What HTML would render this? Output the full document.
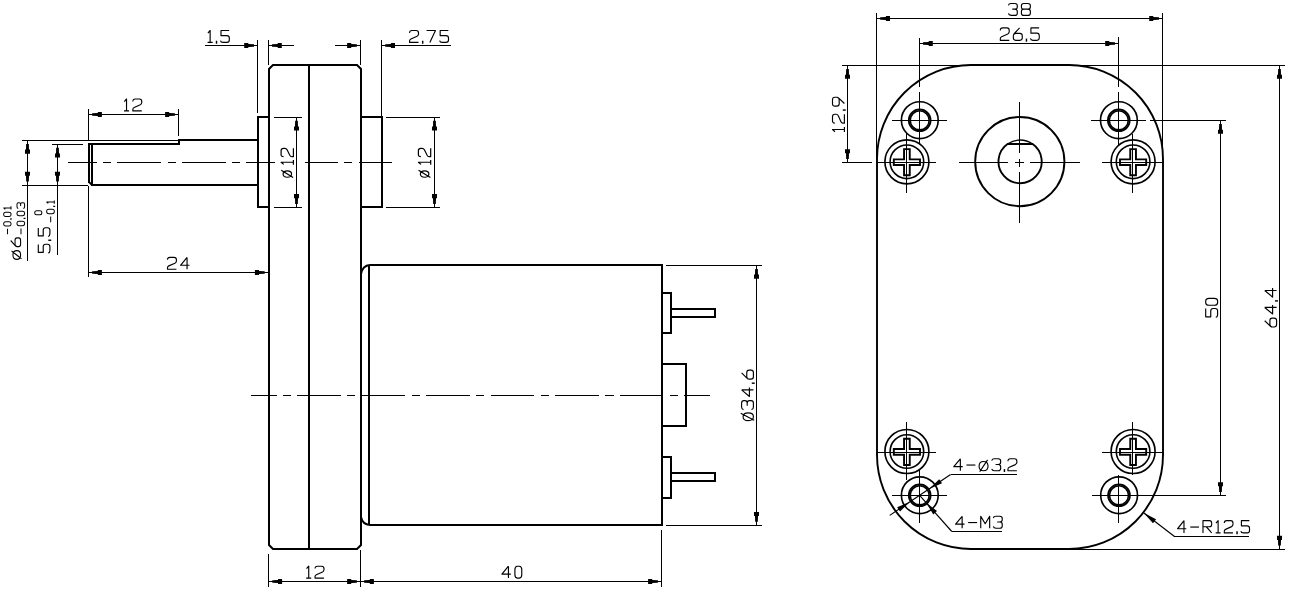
<!DOCTYPE html>
<html><head><meta charset="utf-8"><title>Gear motor drawing</title>
<style>
html,body{margin:0;padding:0;background:#fff;}
body{width:1289px;height:595px;overflow:hidden;font-family:"Liberation Sans",sans-serif;}
svg{display:block;}
</style></head><body>
<svg width="1289" height="595" viewBox="0 0 1289 595">
<rect width="1289" height="595" fill="#fff"/>
<path d="M269,69 L273,65 L357,65 L361,69 L361,545 L357,549 L273,549 L269,545 Z" stroke="#000" stroke-width="2" fill="none" stroke-linejoin="miter" stroke-linecap="square"/>
<line x1="309.00" y1="65.00" x2="309.00" y2="549.00" stroke="#000" stroke-width="2" shape-rendering="crispEdges"/>
<path d="M269,117 L258,117 L258,207 L269,207" stroke="#000" stroke-width="2" fill="none" stroke-linejoin="miter" stroke-linecap="square" shape-rendering="crispEdges"/>
<path d="M361,117 L382,117 L382,207 L361,207" stroke="#000" stroke-width="2" fill="none" stroke-linejoin="miter" stroke-linecap="square" shape-rendering="crispEdges"/>
<path d="M258,140 L179,140 L179,144 L89,144 L89,182" stroke="#000" stroke-width="2" fill="none" stroke-linejoin="miter" stroke-linecap="square" shape-rendering="crispEdges"/>
<path d="M258,185 L92,185" stroke="#000" stroke-width="2" fill="none" stroke-linejoin="miter" stroke-linecap="square" shape-rendering="crispEdges"/>
<path d="M89,182 L92,185" stroke="#000" stroke-width="1.8" fill="none" />
<line x1="92.00" y1="144.00" x2="92.00" y2="185.00" stroke="#000" stroke-width="2" shape-rendering="crispEdges"/>
<path d="M662,265 L370,265 Q362.5,265.5 361,274" stroke="#000" stroke-width="2" fill="none" />
<path d="M662,525 L370,525 Q362.5,524.5 361,517" stroke="#000" stroke-width="2" fill="none" />
<line x1="662.00" y1="264.00" x2="662.00" y2="526.00" stroke="#000" stroke-width="2" shape-rendering="crispEdges"/>
<line x1="369.00" y1="265.00" x2="369.00" y2="525.00" stroke="#000" stroke-width="2" shape-rendering="crispEdges"/>
<path d="M662,293 L671,293 L671,333 L662,333" stroke="#000" stroke-width="2" fill="none" stroke-linejoin="miter" stroke-linecap="square" shape-rendering="crispEdges"/>
<path d="M671,309 L715,309 L715,317 L671,317" stroke="#000" stroke-width="2" fill="none" stroke-linejoin="miter" stroke-linecap="square" shape-rendering="crispEdges"/>
<path d="M662,457 L671,457 L671,498 L662,498" stroke="#000" stroke-width="2" fill="none" stroke-linejoin="miter" stroke-linecap="square" shape-rendering="crispEdges"/>
<path d="M671,473 L715,473 L715,481 L671,481" stroke="#000" stroke-width="2" fill="none" stroke-linejoin="miter" stroke-linecap="square" shape-rendering="crispEdges"/>
<path d="M662,364 L686,364 L686,426 L662,426" stroke="#000" stroke-width="2" fill="none" stroke-linejoin="miter" stroke-linecap="square" shape-rendering="crispEdges"/>
<line x1="205.00" y1="45.50" x2="258.00" y2="45.50" stroke="#000" stroke-width="1" shape-rendering="crispEdges"/>
<path d="M0.3,0 L-3.6,-0.55 L-3.6,-1.35 L-9.3,-1.5 L-9.3,-2.45 L-13.4,-2.55 L-13.4,2.55 L-9.3,2.45 L-9.3,1.5 L-3.6,1.35 L-3.6,0.55 Z" fill="#000" stroke="none" transform="translate(257.60,45.50) rotate(0.00)"/>
<line x1="268.00" y1="45.50" x2="294.00" y2="45.50" stroke="#000" stroke-width="1" shape-rendering="crispEdges"/>
<path d="M0.3,0 L-3.6,-0.55 L-3.6,-1.35 L-9.3,-1.5 L-9.3,-2.45 L-13.4,-2.55 L-13.4,2.55 L-9.3,2.45 L-9.3,1.5 L-3.6,1.35 L-3.6,0.55 Z" fill="#000" stroke="none" transform="translate(268.40,45.50) rotate(180.00)"/>
<line x1="257.50" y1="40.00" x2="257.50" y2="113.00" stroke="#000" stroke-width="1" shape-rendering="crispEdges"/>
<line x1="268.50" y1="40.00" x2="268.50" y2="65.00" stroke="#000" stroke-width="1" shape-rendering="crispEdges"/>
<g transform="translate(207.60,42.40) rotate(0) scale(1.4875,1.4875)" fill="none" stroke="#000" stroke-width="0.773" stroke-linecap="butt" stroke-linejoin="round"><path d="M0.2,1.7 L1.7,0 L1.7,8 M0,8 L3.4,8" transform="translate(0.000,-8)"/><path d="M0.15,6.9 L0.15,8.9" transform="translate(5.850,-8)" stroke-width="0.966"/><path d="M5.9,0 L0.4,0 L0.4,3.4 L4.4,3.4 Q6,3.4 6,5 L6,6.4 Q6,8 4.4,8 L1.8,8 Q0.3,8 0,6.8" transform="translate(8.600,-8)"/></g>
<line x1="335.00" y1="45.50" x2="360.00" y2="45.50" stroke="#000" stroke-width="1" shape-rendering="crispEdges"/>
<path d="M0.3,0 L-3.6,-0.55 L-3.6,-1.35 L-9.3,-1.5 L-9.3,-2.45 L-13.4,-2.55 L-13.4,2.55 L-9.3,2.45 L-9.3,1.5 L-3.6,1.35 L-3.6,0.55 Z" fill="#000" stroke="none" transform="translate(360.50,45.50) rotate(0.00)"/>
<line x1="382.00" y1="45.50" x2="451.00" y2="45.50" stroke="#000" stroke-width="1" shape-rendering="crispEdges"/>
<path d="M0.3,0 L-3.6,-0.55 L-3.6,-1.35 L-9.3,-1.5 L-9.3,-2.45 L-13.4,-2.55 L-13.4,2.55 L-9.3,2.45 L-9.3,1.5 L-3.6,1.35 L-3.6,0.55 Z" fill="#000" stroke="none" transform="translate(381.60,45.50) rotate(180.00)"/>
<line x1="360.50" y1="40.00" x2="360.50" y2="65.00" stroke="#000" stroke-width="1" shape-rendering="crispEdges"/>
<line x1="381.50" y1="40.00" x2="381.50" y2="117.00" stroke="#000" stroke-width="1" shape-rendering="crispEdges"/>
<g transform="translate(409.60,42.40) rotate(0) scale(1.4875,1.4875)" fill="none" stroke="#000" stroke-width="0.773" stroke-linecap="butt" stroke-linejoin="round"><path d="M0,1.6 Q0,0 1.6,0 L4.4,0 Q6,0 6,1.6 L6,2.4 Q6,3.4 5,3.9 L0.9,5.7 Q0,6.1 0,7 L0,8 L6,8" transform="translate(0.000,-8)"/><path d="M0.15,6.9 L0.15,8.9" transform="translate(8.650,-8)" stroke-width="0.966"/><path d="M0,0 L6,0 L2.2,8" transform="translate(11.400,-8)"/><path d="M5.9,0 L0.4,0 L0.4,3.4 L4.4,3.4 Q6,3.4 6,5 L6,6.4 Q6,8 4.4,8 L1.8,8 Q0.3,8 0,6.8" transform="translate(20.150,-8)"/></g>
<line x1="88.00" y1="114.50" x2="178.00" y2="114.50" stroke="#000" stroke-width="1" shape-rendering="crispEdges"/>
<path d="M0.3,0 L-3.6,-0.55 L-3.6,-1.35 L-9.3,-1.5 L-9.3,-2.45 L-13.4,-2.55 L-13.4,2.55 L-9.3,2.45 L-9.3,1.5 L-3.6,1.35 L-3.6,0.55 Z" fill="#000" stroke="none" transform="translate(88.50,114.50) rotate(180.00)"/>
<path d="M0.3,0 L-3.6,-0.55 L-3.6,-1.35 L-9.3,-1.5 L-9.3,-2.45 L-13.4,-2.55 L-13.4,2.55 L-9.3,2.45 L-9.3,1.5 L-3.6,1.35 L-3.6,0.55 Z" fill="#000" stroke="none" transform="translate(178.50,114.50) rotate(0.00)"/>
<line x1="88.50" y1="109.00" x2="88.50" y2="140.00" stroke="#000" stroke-width="1" shape-rendering="crispEdges"/>
<line x1="178.50" y1="109.00" x2="178.50" y2="136.00" stroke="#000" stroke-width="1" shape-rendering="crispEdges"/>
<line x1="88.50" y1="186.00" x2="88.50" y2="277.00" stroke="#000" stroke-width="1" shape-rendering="crispEdges"/>
<g transform="translate(124.00,110.90) rotate(0) scale(1.4875,1.4875)" fill="none" stroke="#000" stroke-width="0.773" stroke-linecap="butt" stroke-linejoin="round"><path d="M0.2,1.7 L1.7,0 L1.7,8 M0,8 L3.4,8" transform="translate(0.000,-8)"/><path d="M0,1.6 Q0,0 1.6,0 L4.4,0 Q6,0 6,1.6 L6,2.4 Q6,3.4 5,3.9 L0.9,5.7 Q0,6.1 0,7 L0,8 L6,8" transform="translate(5.950,-8)"/></g>
<line x1="88.00" y1="272.50" x2="269.00" y2="272.50" stroke="#000" stroke-width="1" shape-rendering="crispEdges"/>
<path d="M0.3,0 L-3.6,-0.55 L-3.6,-1.35 L-9.3,-1.5 L-9.3,-2.45 L-13.4,-2.55 L-13.4,2.55 L-9.3,2.45 L-9.3,1.5 L-3.6,1.35 L-3.6,0.55 Z" fill="#000" stroke="none" transform="translate(88.50,272.50) rotate(180.00)"/>
<path d="M0.3,0 L-3.6,-0.55 L-3.6,-1.35 L-9.3,-1.5 L-9.3,-2.45 L-13.4,-2.55 L-13.4,2.55 L-9.3,2.45 L-9.3,1.5 L-3.6,1.35 L-3.6,0.55 Z" fill="#000" stroke="none" transform="translate(268.30,272.50) rotate(0.00)"/>
<g transform="translate(167.50,269.30) rotate(0) scale(1.4875,1.4875)" fill="none" stroke="#000" stroke-width="0.773" stroke-linecap="butt" stroke-linejoin="round"><path d="M0,1.6 Q0,0 1.6,0 L4.4,0 Q6,0 6,1.6 L6,2.4 Q6,3.4 5,3.9 L0.9,5.7 Q0,6.1 0,7 L0,8 L6,8" transform="translate(0.000,-8)"/><path d="M4.4,0 L0,5.3 L6,5.3 M4.4,0 L4.4,8" transform="translate(8.750,-8)"/></g>
<line x1="22.00" y1="140.50" x2="178.00" y2="140.50" stroke="#000" stroke-width="1" shape-rendering="crispEdges"/>
<line x1="22.00" y1="185.50" x2="88.00" y2="185.50" stroke="#000" stroke-width="1" shape-rendering="crispEdges"/>
<line x1="27.50" y1="140.00" x2="27.50" y2="261.00" stroke="#000" stroke-width="1" shape-rendering="crispEdges"/>
<path d="M0.3,0 L-3.6,-0.55 L-3.6,-1.35 L-9.3,-1.5 L-9.3,-2.45 L-13.4,-2.55 L-13.4,2.55 L-9.3,2.45 L-9.3,1.5 L-3.6,1.35 L-3.6,0.55 Z" fill="#000" stroke="none" transform="translate(27.50,140.30) rotate(-90.00)"/>
<path d="M0.3,0 L-3.6,-0.55 L-3.6,-1.35 L-9.3,-1.5 L-9.3,-2.45 L-13.4,-2.55 L-13.4,2.55 L-9.3,2.45 L-9.3,1.5 L-3.6,1.35 L-3.6,0.55 Z" fill="#000" stroke="none" transform="translate(27.50,185.05) rotate(90.00)"/>
<line x1="52.00" y1="144.50" x2="83.00" y2="144.50" stroke="#000" stroke-width="1" shape-rendering="crispEdges"/>
<line x1="57.50" y1="144.00" x2="57.50" y2="255.00" stroke="#000" stroke-width="1" shape-rendering="crispEdges"/>
<path d="M0.3,0 L-3.6,-0.55 L-3.6,-1.35 L-9.3,-1.5 L-9.3,-2.45 L-13.4,-2.55 L-13.4,2.55 L-9.3,2.45 L-9.3,1.5 L-3.6,1.35 L-3.6,0.55 Z" fill="#000" stroke="none" transform="translate(57.50,144.20) rotate(-90.00)"/>
<path d="M0.3,0 L-3.6,-0.55 L-3.6,-1.35 L-9.3,-1.5 L-9.3,-2.45 L-13.4,-2.55 L-13.4,2.55 L-9.3,2.45 L-9.3,1.5 L-3.6,1.35 L-3.6,0.55 Z" fill="#000" stroke="none" transform="translate(57.50,185.05) rotate(90.00)"/>
<g transform="translate(20.60,259.30) rotate(-90) scale(1.4500,1.2375)" fill="none" stroke="#000" stroke-width="0.856" stroke-linecap="butt" stroke-linejoin="round"><path d="M3,1.8 Q6,1.8 6,5 Q6,8 3,8 Q0,8 0,5 Q0,1.8 3,1.8 Z M0.4,8.7 L5.7,0.7" transform="translate(0.000,-8)"/><path d="M4.2,0 L0.7,3.6 Q0,4.4 0,5.2 L0,6.4 Q0,8 1.6,8 L4.4,8 Q6,8 6,6.4 L6,5.1 Q6,3.5 4.4,3.5 L1.6,3.5 Q0.3,3.5 0,5" transform="translate(8.750,-8)"/></g>
<g transform="translate(11.00,234.20) rotate(-90) scale(0.9125,0.9125)" fill="none" stroke="#000" stroke-width="1.096" stroke-linecap="butt" stroke-linejoin="round"><path d="M0,4.2 L6,4.2" transform="translate(0.000,-8)"/><path d="M1.6,0 L3.0,0 Q4.6,0.2 4.6,2.2 L4.6,5.8 Q4.6,7.8 3.0,8 L1.6,8 Q0,7.8 0,5.8 L0,2.2 Q0,0.2 1.6,0 Z" transform="translate(9.000,-8)"/><path d="M0.15,6.9 L0.15,8.9" transform="translate(16.500,-8)" stroke-width="1.370"/><path d="M1.6,0 L3.0,0 Q4.6,0.2 4.6,2.2 L4.6,5.8 Q4.6,7.8 3.0,8 L1.6,8 Q0,7.8 0,5.8 L0,2.2 Q0,0.2 1.6,0 Z" transform="translate(19.500,-8)"/><path d="M0.2,1.7 L1.7,0 L1.7,8 M0,8 L3.4,8" transform="translate(27.100,-8)"/></g>
<g transform="translate(24.60,234.20) rotate(-90) scale(0.9500,0.9500)" fill="none" stroke="#000" stroke-width="1.053" stroke-linecap="butt" stroke-linejoin="round"><path d="M0,4.2 L6,4.2" transform="translate(0.000,-8)"/><path d="M1.6,0 L3.0,0 Q4.6,0.2 4.6,2.2 L4.6,5.8 Q4.6,7.8 3.0,8 L1.6,8 Q0,7.8 0,5.8 L0,2.2 Q0,0.2 1.6,0 Z" transform="translate(9.000,-8)"/><path d="M0.15,6.9 L0.15,8.9" transform="translate(16.500,-8)" stroke-width="1.316"/><path d="M1.6,0 L3.0,0 Q4.6,0.2 4.6,2.2 L4.6,5.8 Q4.6,7.8 3.0,8 L1.6,8 Q0,7.8 0,5.8 L0,2.2 Q0,0.2 1.6,0 Z" transform="translate(19.500,-8)"/><path d="M0,1.3 Q0.3,0 1.8,0 L4.4,0 Q6,0 6,1.5 L6,2.3 Q6,3.8 4.4,3.8 L2.6,3.8 M4.4,3.8 Q6,3.8 6,5.3 L6,6.5 Q6,8 4.4,8 L1.8,8 Q0.3,8 0,6.7" transform="translate(27.100,-8)"/></g>
<g transform="translate(49.90,253.00) rotate(-90) scale(1.4500,1.4500)" fill="none" stroke="#000" stroke-width="0.793" stroke-linecap="butt" stroke-linejoin="round"><path d="M5.9,0 L0.4,0 L0.4,3.4 L4.4,3.4 Q6,3.4 6,5 L6,6.4 Q6,8 4.4,8 L1.8,8 Q0.3,8 0,6.8" transform="translate(0.000,-8)"/><path d="M0.15,6.9 L0.15,8.9" transform="translate(8.650,-8)" stroke-width="0.991"/><path d="M5.9,0 L0.4,0 L0.4,3.4 L4.4,3.4 Q6,3.4 6,5 L6,6.4 Q6,8 4.4,8 L1.8,8 Q0.3,8 0,6.8" transform="translate(11.400,-8)"/></g>
<g transform="translate(41.80,214.80) rotate(-90) scale(0.8750,0.8750)" fill="none" stroke="#000" stroke-width="1.143" stroke-linecap="butt" stroke-linejoin="round"><path d="M1.6,0 L3.0,0 Q4.6,0.2 4.6,2.2 L4.6,5.8 Q4.6,7.8 3.0,8 L1.6,8 Q0,7.8 0,5.8 L0,2.2 Q0,0.2 1.6,0 Z" transform="translate(0.000,-8)"/></g>
<g transform="translate(54.30,222.20) rotate(-90) scale(0.9500,0.9500)" fill="none" stroke="#000" stroke-width="1.053" stroke-linecap="butt" stroke-linejoin="round"><path d="M0,4.2 L6,4.2" transform="translate(0.000,-8)"/><path d="M1.6,0 L3.0,0 Q4.6,0.2 4.6,2.2 L4.6,5.8 Q4.6,7.8 3.0,8 L1.6,8 Q0,7.8 0,5.8 L0,2.2 Q0,0.2 1.6,0 Z" transform="translate(9.000,-8)"/><path d="M0.15,6.9 L0.15,8.9" transform="translate(16.500,-8)" stroke-width="1.316"/><path d="M0.2,1.7 L1.7,0 L1.7,8 M0,8 L3.4,8" transform="translate(19.500,-8)"/></g>
<line x1="274.00" y1="117.50" x2="302.00" y2="117.50" stroke="#000" stroke-width="1" shape-rendering="crispEdges"/>
<line x1="274.00" y1="207.50" x2="302.00" y2="207.50" stroke="#000" stroke-width="1" shape-rendering="crispEdges"/>
<line x1="296.50" y1="117.00" x2="296.50" y2="208.00" stroke="#000" stroke-width="1" shape-rendering="crispEdges"/>
<path d="M0.3,0 L-3.6,-0.55 L-3.6,-1.35 L-9.3,-1.5 L-9.3,-2.45 L-13.4,-2.55 L-13.4,2.55 L-9.3,2.45 L-9.3,1.5 L-3.6,1.35 L-3.6,0.55 Z" fill="#000" stroke="none" transform="translate(296.50,117.20) rotate(-90.00)"/>
<path d="M0.3,0 L-3.6,-0.55 L-3.6,-1.35 L-9.3,-1.5 L-9.3,-2.45 L-13.4,-2.55 L-13.4,2.55 L-9.3,2.45 L-9.3,1.5 L-3.6,1.35 L-3.6,0.55 Z" fill="#000" stroke="none" transform="translate(296.50,207.50) rotate(90.00)"/>
<g transform="translate(293.40,177.60) rotate(-90) scale(1.3800,1.5375)" fill="none" stroke="#000" stroke-width="0.788" stroke-linecap="butt" stroke-linejoin="round"><path d="M2.6,1.3 Q4.9,1.3 4.9,4.05 Q4.9,6.8 2.6,6.8 Q0.3,6.8 0.3,4.05 Q0.3,1.3 2.6,1.3 Z M0.1,7.8 L5.3,0.1" transform="translate(0.000,-8)"/><path d="M0.2,1.7 L1.7,0 L1.7,8 M0,8 L3.4,8" transform="translate(9.400,-8)"/><path d="M0,1.6 Q0,0 1.6,0 L4.4,0 Q6,0 6,1.6 L6,2.4 Q6,3.4 5,3.9 L0.9,5.7 Q0,6.1 0,7 L0,8 L6,8" transform="translate(15.200,-8)"/></g>
<line x1="386.00" y1="117.50" x2="440.00" y2="117.50" stroke="#000" stroke-width="1" shape-rendering="crispEdges"/>
<line x1="386.00" y1="207.50" x2="440.00" y2="207.50" stroke="#000" stroke-width="1" shape-rendering="crispEdges"/>
<line x1="434.50" y1="117.00" x2="434.50" y2="208.00" stroke="#000" stroke-width="1" shape-rendering="crispEdges"/>
<path d="M0.3,0 L-3.6,-0.55 L-3.6,-1.35 L-9.3,-1.5 L-9.3,-2.45 L-13.4,-2.55 L-13.4,2.55 L-9.3,2.45 L-9.3,1.5 L-3.6,1.35 L-3.6,0.55 Z" fill="#000" stroke="none" transform="translate(434.50,117.20) rotate(-90.00)"/>
<path d="M0.3,0 L-3.6,-0.55 L-3.6,-1.35 L-9.3,-1.5 L-9.3,-2.45 L-13.4,-2.55 L-13.4,2.55 L-9.3,2.45 L-9.3,1.5 L-3.6,1.35 L-3.6,0.55 Z" fill="#000" stroke="none" transform="translate(434.50,207.50) rotate(90.00)"/>
<g transform="translate(430.70,177.60) rotate(-90) scale(1.3800,1.5375)" fill="none" stroke="#000" stroke-width="0.788" stroke-linecap="butt" stroke-linejoin="round"><path d="M2.6,1.3 Q4.9,1.3 4.9,4.05 Q4.9,6.8 2.6,6.8 Q0.3,6.8 0.3,4.05 Q0.3,1.3 2.6,1.3 Z M0.1,7.8 L5.3,0.1" transform="translate(0.000,-8)"/><path d="M0.2,1.7 L1.7,0 L1.7,8 M0,8 L3.4,8" transform="translate(9.400,-8)"/><path d="M0,1.6 Q0,0 1.6,0 L4.4,0 Q6,0 6,1.6 L6,2.4 Q6,3.4 5,3.9 L0.9,5.7 Q0,6.1 0,7 L0,8 L6,8" transform="translate(15.200,-8)"/></g>
<line x1="666.00" y1="265.50" x2="762.00" y2="265.50" stroke="#000" stroke-width="1" shape-rendering="crispEdges"/>
<line x1="666.00" y1="525.50" x2="762.00" y2="525.50" stroke="#000" stroke-width="1" shape-rendering="crispEdges"/>
<line x1="756.50" y1="265.00" x2="756.50" y2="525.00" stroke="#000" stroke-width="1" shape-rendering="crispEdges"/>
<path d="M0.3,0 L-3.6,-0.55 L-3.6,-1.35 L-9.3,-1.5 L-9.3,-2.45 L-13.4,-2.55 L-13.4,2.55 L-9.3,2.45 L-9.3,1.5 L-3.6,1.35 L-3.6,0.55 Z" fill="#000" stroke="none" transform="translate(756.50,265.30) rotate(-90.00)"/>
<path d="M0.3,0 L-3.6,-0.55 L-3.6,-1.35 L-9.3,-1.5 L-9.3,-2.45 L-13.4,-2.55 L-13.4,2.55 L-9.3,2.45 L-9.3,1.5 L-3.6,1.35 L-3.6,0.55 Z" fill="#000" stroke="none" transform="translate(756.50,525.40) rotate(90.00)"/>
<g transform="translate(753.40,420.60) rotate(-90) scale(1.5000,1.4750)" fill="none" stroke="#000" stroke-width="0.773" stroke-linecap="butt" stroke-linejoin="round"><path d="M2.6,1.0 Q5.2,1.0 5.2,4.5 Q5.2,8 2.6,8 Q0,8 0,4.5 Q0,1.0 2.6,1.0 Z M0.3,8.5 L4.9,-0.6" transform="translate(0.000,-8)"/><path d="M0,1.3 Q0.3,0 1.8,0 L4.4,0 Q6,0 6,1.5 L6,2.3 Q6,3.8 4.4,3.8 L2.6,3.8 M4.4,3.8 Q6,3.8 6,5.3 L6,6.5 Q6,8 4.4,8 L1.8,8 Q0.3,8 0,6.7" transform="translate(7.300,-8)"/><path d="M4.4,0 L0,5.3 L6,5.3 M4.4,0 L4.4,8" transform="translate(16.100,-8)"/><path d="M0.15,6.9 L0.15,8.9" transform="translate(24.800,-8)" stroke-width="0.958"/><path d="M4.2,0 L0.7,3.6 Q0,4.4 0,5.2 L0,6.4 Q0,8 1.6,8 L4.4,8 Q6,8 6,6.4 L6,5.1 Q6,3.5 4.4,3.5 L1.6,3.5 Q0.3,3.5 0,5" transform="translate(27.600,-8)"/></g>
<line x1="268.50" y1="554.00" x2="268.50" y2="587.00" stroke="#000" stroke-width="1" shape-rendering="crispEdges"/>
<line x1="360.50" y1="550.00" x2="360.50" y2="587.00" stroke="#000" stroke-width="1" shape-rendering="crispEdges"/>
<line x1="661.50" y1="530.00" x2="661.50" y2="587.00" stroke="#000" stroke-width="1" shape-rendering="crispEdges"/>
<line x1="269.00" y1="581.50" x2="662.00" y2="581.50" stroke="#000" stroke-width="1" shape-rendering="crispEdges"/>
<path d="M0.3,0 L-3.6,-0.55 L-3.6,-1.35 L-9.3,-1.5 L-9.3,-2.45 L-13.4,-2.55 L-13.4,2.55 L-9.3,2.45 L-9.3,1.5 L-3.6,1.35 L-3.6,0.55 Z" fill="#000" stroke="none" transform="translate(268.70,581.50) rotate(180.00)"/>
<path d="M0.3,0 L-3.6,-0.55 L-3.6,-1.35 L-9.3,-1.5 L-9.3,-2.45 L-13.4,-2.55 L-13.4,2.55 L-9.3,2.45 L-9.3,1.5 L-3.6,1.35 L-3.6,0.55 Z" fill="#000" stroke="none" transform="translate(360.50,581.50) rotate(0.00)"/>
<path d="M0.3,0 L-3.6,-0.55 L-3.6,-1.35 L-9.3,-1.5 L-9.3,-2.45 L-13.4,-2.55 L-13.4,2.55 L-9.3,2.45 L-9.3,1.5 L-3.6,1.35 L-3.6,0.55 Z" fill="#000" stroke="none" transform="translate(360.50,581.50) rotate(180.00)"/>
<path d="M0.3,0 L-3.6,-0.55 L-3.6,-1.35 L-9.3,-1.5 L-9.3,-2.45 L-13.4,-2.55 L-13.4,2.55 L-9.3,2.45 L-9.3,1.5 L-3.6,1.35 L-3.6,0.55 Z" fill="#000" stroke="none" transform="translate(661.50,581.50) rotate(0.00)"/>
<g transform="translate(306.20,578.10) rotate(0) scale(1.4875,1.4875)" fill="none" stroke="#000" stroke-width="0.773" stroke-linecap="butt" stroke-linejoin="round"><path d="M0.2,1.7 L1.7,0 L1.7,8 M0,8 L3.4,8" transform="translate(0.000,-8)"/><path d="M0,1.6 Q0,0 1.6,0 L4.4,0 Q6,0 6,1.6 L6,2.4 Q6,3.4 5,3.9 L0.9,5.7 Q0,6.1 0,7 L0,8 L6,8" transform="translate(5.950,-8)"/></g>
<g transform="translate(501.90,578.10) rotate(0) scale(1.4875,1.4875)" fill="none" stroke="#000" stroke-width="0.773" stroke-linecap="butt" stroke-linejoin="round"><path d="M4.4,0 L0,5.3 L6,5.3 M4.4,0 L4.4,8" transform="translate(0.000,-8)"/><path d="M1.6,0 L3.0,0 Q4.6,0.2 4.6,2.2 L4.6,5.8 Q4.6,7.8 3.0,8 L1.6,8 Q0,7.8 0,5.8 L0,2.2 Q0,0.2 1.6,0 Z" transform="translate(8.750,-8)"/></g>
<line x1="68.00" y1="162.50" x2="97.00" y2="162.50" stroke="#000" stroke-width="1" shape-rendering="crispEdges"/>
<line x1="103.00" y1="162.50" x2="111.00" y2="162.50" stroke="#000" stroke-width="1" shape-rendering="crispEdges"/>
<line x1="117.00" y1="162.50" x2="161.00" y2="162.50" stroke="#000" stroke-width="1" shape-rendering="crispEdges"/>
<line x1="168.00" y1="162.50" x2="176.00" y2="162.50" stroke="#000" stroke-width="1" shape-rendering="crispEdges"/>
<line x1="182.00" y1="162.50" x2="226.00" y2="162.50" stroke="#000" stroke-width="1" shape-rendering="crispEdges"/>
<line x1="232.00" y1="162.50" x2="240.00" y2="162.50" stroke="#000" stroke-width="1" shape-rendering="crispEdges"/>
<line x1="246.00" y1="162.50" x2="275.00" y2="162.50" stroke="#000" stroke-width="1" shape-rendering="crispEdges"/>
<line x1="305.00" y1="162.50" x2="338.00" y2="162.50" stroke="#000" stroke-width="1" shape-rendering="crispEdges"/>
<line x1="344.00" y1="162.50" x2="352.00" y2="162.50" stroke="#000" stroke-width="1" shape-rendering="crispEdges"/>
<line x1="359.00" y1="162.50" x2="392.00" y2="162.50" stroke="#000" stroke-width="1" shape-rendering="crispEdges"/>
<line x1="251.00" y1="395.50" x2="277.00" y2="395.50" stroke="#000" stroke-width="1" shape-rendering="crispEdges"/>
<line x1="283.00" y1="395.50" x2="291.00" y2="395.50" stroke="#000" stroke-width="1" shape-rendering="crispEdges"/>
<line x1="297.00" y1="395.50" x2="341.00" y2="395.50" stroke="#000" stroke-width="1" shape-rendering="crispEdges"/>
<line x1="347.00" y1="395.50" x2="355.00" y2="395.50" stroke="#000" stroke-width="1" shape-rendering="crispEdges"/>
<line x1="362.00" y1="395.50" x2="405.00" y2="395.50" stroke="#000" stroke-width="1" shape-rendering="crispEdges"/>
<line x1="412.00" y1="395.50" x2="420.00" y2="395.50" stroke="#000" stroke-width="1" shape-rendering="crispEdges"/>
<line x1="426.00" y1="395.50" x2="470.00" y2="395.50" stroke="#000" stroke-width="1" shape-rendering="crispEdges"/>
<line x1="476.00" y1="395.50" x2="484.00" y2="395.50" stroke="#000" stroke-width="1" shape-rendering="crispEdges"/>
<line x1="491.00" y1="395.50" x2="534.00" y2="395.50" stroke="#000" stroke-width="1" shape-rendering="crispEdges"/>
<line x1="541.00" y1="395.50" x2="549.00" y2="395.50" stroke="#000" stroke-width="1" shape-rendering="crispEdges"/>
<line x1="555.00" y1="395.50" x2="599.00" y2="395.50" stroke="#000" stroke-width="1" shape-rendering="crispEdges"/>
<line x1="605.00" y1="395.50" x2="614.00" y2="395.50" stroke="#000" stroke-width="1" shape-rendering="crispEdges"/>
<line x1="620.00" y1="395.50" x2="663.00" y2="395.50" stroke="#000" stroke-width="1" shape-rendering="crispEdges"/>
<line x1="670.00" y1="395.50" x2="678.00" y2="395.50" stroke="#000" stroke-width="1" shape-rendering="crispEdges"/>
<line x1="684.00" y1="395.50" x2="710.00" y2="395.50" stroke="#000" stroke-width="1" shape-rendering="crispEdges"/>
<path d="M971.0,65 L1069.0,65 A94.0,94.0 0 0 1 1163,159.0 L1163,455.0 A94.0,94.0 0 0 1 1069.0,549 L971.0,549 A94.0,94.0 0 0 1 877,455.0 L877,159.0 A94.0,94.0 0 0 1 971.0,65 Z" stroke="#000" stroke-width="1.9" fill="none" />
<circle cx="1019.80" cy="161.60" r="44.60" stroke="#000" stroke-width="1.9" fill="none"/>
<path d="M1007.86,143.8 A21.6,21.6 0 1 0 1032.34,143.8" stroke="#000" stroke-width="1.9" fill="none" />
<path d="M1007.86,143.8 A21.6,21.6 0 0 1 1032.34,143.8" stroke="#000" stroke-width="1.3" fill="none" />
<line x1="1007.00" y1="144.00" x2="1033.00" y2="144.00" stroke="#000" stroke-width="2" shape-rendering="crispEdges"/>
<line x1="959.00" y1="162.50" x2="1008.00" y2="162.50" stroke="#000" stroke-width="1" shape-rendering="crispEdges"/>
<line x1="1015.00" y1="162.50" x2="1024.00" y2="162.50" stroke="#000" stroke-width="1" shape-rendering="crispEdges"/>
<line x1="1030.00" y1="162.50" x2="1080.00" y2="162.50" stroke="#000" stroke-width="1" shape-rendering="crispEdges"/>
<line x1="1019.50" y1="102.00" x2="1019.50" y2="153.00" stroke="#000" stroke-width="1" shape-rendering="crispEdges"/>
<line x1="1019.50" y1="159.00" x2="1019.50" y2="167.00" stroke="#000" stroke-width="1" shape-rendering="crispEdges"/>
<line x1="1019.50" y1="172.00" x2="1019.50" y2="223.00" stroke="#000" stroke-width="1" shape-rendering="crispEdges"/>
<circle cx="919.80" cy="120.20" r="18.40" stroke="#000" stroke-width="1.65" fill="none"/>
<circle cx="919.70" cy="120.30" r="10.90" stroke="#000" stroke-width="1.8" fill="none"/>
<circle cx="919.70" cy="120.30" r="9.50" stroke="#000" stroke-width="1.6" fill="none"/>
<line x1="892.00" y1="120.50" x2="947.00" y2="120.50" stroke="#000" stroke-width="1" shape-rendering="crispEdges"/>
<line x1="919.50" y1="92.00" x2="919.50" y2="144.00" stroke="#000" stroke-width="1" shape-rendering="crispEdges"/>
<circle cx="1118.90" cy="120.20" r="18.40" stroke="#000" stroke-width="1.65" fill="none"/>
<circle cx="1118.80" cy="120.30" r="10.90" stroke="#000" stroke-width="1.8" fill="none"/>
<circle cx="1118.80" cy="120.30" r="9.50" stroke="#000" stroke-width="1.6" fill="none"/>
<line x1="1091.00" y1="120.50" x2="1146.00" y2="120.50" stroke="#000" stroke-width="1" shape-rendering="crispEdges"/>
<line x1="1118.50" y1="92.00" x2="1118.50" y2="146.00" stroke="#000" stroke-width="1" shape-rendering="crispEdges"/>
<circle cx="919.80" cy="495.20" r="18.40" stroke="#000" stroke-width="1.65" fill="none"/>
<circle cx="919.70" cy="495.30" r="10.90" stroke="#000" stroke-width="1.8" fill="none"/>
<circle cx="919.70" cy="495.30" r="9.50" stroke="#000" stroke-width="1.6" fill="none"/>
<line x1="892.00" y1="495.50" x2="947.00" y2="495.50" stroke="#000" stroke-width="1" shape-rendering="crispEdges"/>
<line x1="919.50" y1="470.00" x2="919.50" y2="523.00" stroke="#000" stroke-width="1" shape-rendering="crispEdges"/>
<circle cx="1119.10" cy="495.20" r="18.40" stroke="#000" stroke-width="1.65" fill="none"/>
<circle cx="1119.00" cy="495.30" r="10.90" stroke="#000" stroke-width="1.8" fill="none"/>
<circle cx="1119.00" cy="495.30" r="9.50" stroke="#000" stroke-width="1.6" fill="none"/>
<line x1="1092.00" y1="495.50" x2="1146.00" y2="495.50" stroke="#000" stroke-width="1" shape-rendering="crispEdges"/>
<line x1="1118.50" y1="475.00" x2="1118.50" y2="523.00" stroke="#000" stroke-width="1" shape-rendering="crispEdges"/>
<circle cx="906.90" cy="161.80" r="22.00" stroke="#000" stroke-width="1.65" fill="none"/>
<circle cx="906.90" cy="161.80" r="16.80" stroke="#000" stroke-width="1.6" fill="none"/>
<path d="M904.05,149.1 L909.75,149.1 L909.75,159.35 L920.0,159.35 L920.0,165.04999999999998 L909.75,165.04999999999998 L909.75,175.29999999999998 L904.05,175.29999999999998 L904.05,165.04999999999998 L893.8,165.04999999999998 L893.8,159.35 L904.05,159.35 Z" stroke="#000" stroke-width="1.9" fill="none" />
<line x1="877.00" y1="162.50" x2="936.00" y2="162.50" stroke="#000" stroke-width="1" shape-rendering="crispEdges"/>
<line x1="906.50" y1="133.00" x2="906.50" y2="193.00" stroke="#000" stroke-width="1" shape-rendering="crispEdges"/>
<circle cx="1133.10" cy="161.80" r="22.00" stroke="#000" stroke-width="1.65" fill="none"/>
<circle cx="1133.10" cy="161.80" r="16.80" stroke="#000" stroke-width="1.6" fill="none"/>
<path d="M1130.2500000000002,149.1 L1135.95,149.1 L1135.95,159.35 L1146.2,159.35 L1146.2,165.04999999999998 L1135.95,165.04999999999998 L1135.95,175.29999999999998 L1130.2500000000002,175.29999999999998 L1130.2500000000002,165.04999999999998 L1120.0000000000002,165.04999999999998 L1120.0000000000002,159.35 L1130.2500000000002,159.35 Z" stroke="#000" stroke-width="1.9" fill="none" />
<line x1="1102.00" y1="162.50" x2="1163.00" y2="162.50" stroke="#000" stroke-width="1" shape-rendering="crispEdges"/>
<line x1="1132.50" y1="134.00" x2="1132.50" y2="193.00" stroke="#000" stroke-width="1" shape-rendering="crispEdges"/>
<circle cx="906.90" cy="451.50" r="22.00" stroke="#000" stroke-width="1.65" fill="none"/>
<circle cx="906.90" cy="451.50" r="16.80" stroke="#000" stroke-width="1.6" fill="none"/>
<path d="M904.05,438.79999999999995 L909.75,438.79999999999995 L909.75,449.04999999999995 L920.0,449.04999999999995 L920.0,454.75 L909.75,454.75 L909.75,465.0 L904.05,465.0 L904.05,454.75 L893.8,454.75 L893.8,449.04999999999995 L904.05,449.04999999999995 Z" stroke="#000" stroke-width="1.9" fill="none" />
<line x1="877.00" y1="452.50" x2="936.00" y2="452.50" stroke="#000" stroke-width="1" shape-rendering="crispEdges"/>
<line x1="906.50" y1="422.00" x2="906.50" y2="480.00" stroke="#000" stroke-width="1" shape-rendering="crispEdges"/>
<circle cx="1133.10" cy="451.50" r="22.00" stroke="#000" stroke-width="1.65" fill="none"/>
<circle cx="1133.10" cy="451.50" r="16.80" stroke="#000" stroke-width="1.6" fill="none"/>
<path d="M1130.2500000000002,438.79999999999995 L1135.95,438.79999999999995 L1135.95,449.04999999999995 L1146.2,449.04999999999995 L1146.2,454.75 L1135.95,454.75 L1135.95,465.0 L1130.2500000000002,465.0 L1130.2500000000002,454.75 L1120.0000000000002,454.75 L1120.0000000000002,449.04999999999995 L1130.2500000000002,449.04999999999995 Z" stroke="#000" stroke-width="1.9" fill="none" />
<line x1="1102.00" y1="452.50" x2="1163.00" y2="452.50" stroke="#000" stroke-width="1" shape-rendering="crispEdges"/>
<line x1="1132.50" y1="422.00" x2="1132.50" y2="475.00" stroke="#000" stroke-width="1" shape-rendering="crispEdges"/>
<line x1="876.50" y1="13.00" x2="876.50" y2="160.00" stroke="#000" stroke-width="1" shape-rendering="crispEdges"/>
<line x1="1162.50" y1="13.00" x2="1162.50" y2="160.00" stroke="#000" stroke-width="1" shape-rendering="crispEdges"/>
<line x1="877.00" y1="18.50" x2="1163.00" y2="18.50" stroke="#000" stroke-width="1" shape-rendering="crispEdges"/>
<path d="M0.3,0 L-3.6,-0.55 L-3.6,-1.35 L-9.3,-1.5 L-9.3,-2.45 L-13.4,-2.55 L-13.4,2.55 L-9.3,2.45 L-9.3,1.5 L-3.6,1.35 L-3.6,0.55 Z" fill="#000" stroke="none" transform="translate(876.60,18.50) rotate(180.00)"/>
<path d="M0.3,0 L-3.6,-0.55 L-3.6,-1.35 L-9.3,-1.5 L-9.3,-2.45 L-13.4,-2.55 L-13.4,2.55 L-9.3,2.45 L-9.3,1.5 L-3.6,1.35 L-3.6,0.55 Z" fill="#000" stroke="none" transform="translate(1162.60,18.50) rotate(0.00)"/>
<g transform="translate(1008.40,15.40) rotate(0) scale(1.4875,1.4875)" fill="none" stroke="#000" stroke-width="0.773" stroke-linecap="butt" stroke-linejoin="round"><path d="M0,1.3 Q0.3,0 1.8,0 L4.4,0 Q6,0 6,1.5 L6,2.3 Q6,3.8 4.4,3.8 L2.6,3.8 M4.4,3.8 Q6,3.8 6,5.3 L6,6.5 Q6,8 4.4,8 L1.8,8 Q0.3,8 0,6.7" transform="translate(0.000,-8)"/><path d="M1.6,0 L4.4,0 Q6,0 6,1.4 L6,2.4 Q6,3.8 4.4,3.8 L1.6,3.8 Q0,3.8 0,2.4 L0,1.4 Q0,0 1.6,0 Z M1.6,3.8 Q0,3.8 0,5.3 L0,6.5 Q0,8 1.6,8 L4.4,8 Q6,8 6,6.5 L6,5.3 Q6,3.8 4.4,3.8" transform="translate(8.750,-8)"/></g>
<line x1="919.50" y1="38.00" x2="919.50" y2="87.00" stroke="#000" stroke-width="1" shape-rendering="crispEdges"/>
<line x1="1118.50" y1="37.00" x2="1118.50" y2="87.00" stroke="#000" stroke-width="1" shape-rendering="crispEdges"/>
<line x1="919.00" y1="43.50" x2="1119.00" y2="43.50" stroke="#000" stroke-width="1" shape-rendering="crispEdges"/>
<path d="M0.3,0 L-3.6,-0.55 L-3.6,-1.35 L-9.3,-1.5 L-9.3,-2.45 L-13.4,-2.55 L-13.4,2.55 L-9.3,2.45 L-9.3,1.5 L-3.6,1.35 L-3.6,0.55 Z" fill="#000" stroke="none" transform="translate(919.40,43.50) rotate(180.00)"/>
<path d="M0.3,0 L-3.6,-0.55 L-3.6,-1.35 L-9.3,-1.5 L-9.3,-2.45 L-13.4,-2.55 L-13.4,2.55 L-9.3,2.45 L-9.3,1.5 L-3.6,1.35 L-3.6,0.55 Z" fill="#000" stroke="none" transform="translate(1118.60,43.50) rotate(0.00)"/>
<g transform="translate(1000.30,40.30) rotate(0) scale(1.4900,1.5500)" fill="none" stroke="#000" stroke-width="0.757" stroke-linecap="butt" stroke-linejoin="round"><path d="M0,1.6 Q0,0 1.6,0 L4.4,0 Q6,0 6,1.6 L6,2.4 Q6,3.4 5,3.9 L0.9,5.7 Q0,6.1 0,7 L0,8 L6,8" transform="translate(0.000,-8)"/><path d="M4.2,0 L0.7,3.6 Q0,4.4 0,5.2 L0,6.4 Q0,8 1.6,8 L4.4,8 Q6,8 6,6.4 L6,5.1 Q6,3.5 4.4,3.5 L1.6,3.5 Q0.3,3.5 0,5" transform="translate(8.750,-8)"/><path d="M0.15,6.9 L0.15,8.9" transform="translate(17.400,-8)" stroke-width="0.965"/><path d="M5.9,0 L0.4,0 L0.4,3.4 L4.4,3.4 Q6,3.4 6,5 L6,6.4 Q6,8 4.4,8 L1.8,8 Q0.3,8 0,6.8" transform="translate(20.150,-8)"/></g>
<line x1="842.00" y1="65.50" x2="1285.00" y2="65.50" stroke="#000" stroke-width="1" shape-rendering="crispEdges"/>
<line x1="842.00" y1="162.50" x2="872.00" y2="162.50" stroke="#000" stroke-width="1" shape-rendering="crispEdges"/>
<line x1="847.50" y1="65.00" x2="847.50" y2="162.00" stroke="#000" stroke-width="1" shape-rendering="crispEdges"/>
<path d="M0.3,0 L-3.6,-0.55 L-3.6,-1.35 L-9.3,-1.5 L-9.3,-2.45 L-13.4,-2.55 L-13.4,2.55 L-9.3,2.45 L-9.3,1.5 L-3.6,1.35 L-3.6,0.55 Z" fill="#000" stroke="none" transform="translate(847.50,65.40) rotate(-90.00)"/>
<path d="M0.3,0 L-3.6,-0.55 L-3.6,-1.35 L-9.3,-1.5 L-9.3,-2.45 L-13.4,-2.55 L-13.4,2.55 L-9.3,2.45 L-9.3,1.5 L-3.6,1.35 L-3.6,0.55 Z" fill="#000" stroke="none" transform="translate(847.50,162.60) rotate(90.00)"/>
<g transform="translate(844.40,132.00) rotate(-90) scale(1.4875,1.4875)" fill="none" stroke="#000" stroke-width="0.773" stroke-linecap="butt" stroke-linejoin="round"><path d="M0.2,1.7 L1.7,0 L1.7,8 M0,8 L3.4,8" transform="translate(0.000,-8)"/><path d="M0,1.6 Q0,0 1.6,0 L4.4,0 Q6,0 6,1.6 L6,2.4 Q6,3.4 5,3.9 L0.9,5.7 Q0,6.1 0,7 L0,8 L6,8" transform="translate(5.950,-8)"/><path d="M0.15,6.9 L0.15,8.9" transform="translate(14.600,-8)" stroke-width="0.966"/><path d="M1.8,8 L5.3,4.4 Q6,3.6 6,2.8 L6,1.6 Q6,0 4.4,0 L1.6,0 Q0,0 0,1.6 L0,2.9 Q0,4.5 1.6,4.5 L4.4,4.5 Q5.7,4.5 6,3" transform="translate(17.350,-8)"/></g>
<line x1="1060.00" y1="549.50" x2="1285.00" y2="549.50" stroke="#000" stroke-width="1" shape-rendering="crispEdges"/>
<line x1="1279.50" y1="65.00" x2="1279.50" y2="549.00" stroke="#000" stroke-width="1" shape-rendering="crispEdges"/>
<path d="M0.3,0 L-3.6,-0.55 L-3.6,-1.35 L-9.3,-1.5 L-9.3,-2.45 L-13.4,-2.55 L-13.4,2.55 L-9.3,2.45 L-9.3,1.5 L-3.6,1.35 L-3.6,0.55 Z" fill="#000" stroke="none" transform="translate(1279.50,65.40) rotate(-90.00)"/>
<path d="M0.3,0 L-3.6,-0.55 L-3.6,-1.35 L-9.3,-1.5 L-9.3,-2.45 L-13.4,-2.55 L-13.4,2.55 L-9.3,2.45 L-9.3,1.5 L-3.6,1.35 L-3.6,0.55 Z" fill="#000" stroke="none" transform="translate(1279.50,549.20) rotate(90.00)"/>
<g transform="translate(1276.60,327.00) rotate(-90) scale(1.4875,1.4875)" fill="none" stroke="#000" stroke-width="0.773" stroke-linecap="butt" stroke-linejoin="round"><path d="M4.2,0 L0.7,3.6 Q0,4.4 0,5.2 L0,6.4 Q0,8 1.6,8 L4.4,8 Q6,8 6,6.4 L6,5.1 Q6,3.5 4.4,3.5 L1.6,3.5 Q0.3,3.5 0,5" transform="translate(0.000,-8)"/><path d="M4.4,0 L0,5.3 L6,5.3 M4.4,0 L4.4,8" transform="translate(8.750,-8)"/><path d="M0.15,6.9 L0.15,8.9" transform="translate(17.400,-8)" stroke-width="0.966"/><path d="M4.4,0 L0,5.3 L6,5.3 M4.4,0 L4.4,8" transform="translate(20.150,-8)"/></g>
<line x1="1150.00" y1="120.50" x2="1226.00" y2="120.50" stroke="#000" stroke-width="1" shape-rendering="crispEdges"/>
<line x1="1146.00" y1="495.50" x2="1226.00" y2="495.50" stroke="#000" stroke-width="1" shape-rendering="crispEdges"/>
<line x1="1220.50" y1="120.00" x2="1220.50" y2="495.00" stroke="#000" stroke-width="1" shape-rendering="crispEdges"/>
<path d="M0.3,0 L-3.6,-0.55 L-3.6,-1.35 L-9.3,-1.5 L-9.3,-2.45 L-13.4,-2.55 L-13.4,2.55 L-9.3,2.45 L-9.3,1.5 L-3.6,1.35 L-3.6,0.55 Z" fill="#000" stroke="none" transform="translate(1220.50,120.40) rotate(-90.00)"/>
<path d="M0.3,0 L-3.6,-0.55 L-3.6,-1.35 L-9.3,-1.5 L-9.3,-2.45 L-13.4,-2.55 L-13.4,2.55 L-9.3,2.45 L-9.3,1.5 L-3.6,1.35 L-3.6,0.55 Z" fill="#000" stroke="none" transform="translate(1220.50,495.60) rotate(90.00)"/>
<g transform="translate(1217.60,317.40) rotate(-90) scale(1.4875,1.4875)" fill="none" stroke="#000" stroke-width="0.773" stroke-linecap="butt" stroke-linejoin="round"><path d="M5.9,0 L0.4,0 L0.4,3.4 L4.4,3.4 Q6,3.4 6,5 L6,6.4 Q6,8 4.4,8 L1.8,8 Q0.3,8 0,6.8" transform="translate(0.000,-8)"/><path d="M1.6,0 L3.0,0 Q4.6,0.2 4.6,2.2 L4.6,5.8 Q4.6,7.8 3.0,8 L1.6,8 Q0,7.8 0,5.8 L0,2.2 Q0,0.2 1.6,0 Z" transform="translate(8.200,-8)"/></g>
<line x1="950.60" y1="474.50" x2="889.71" y2="515.36" stroke="#000" stroke-width="1.15"/>
<line x1="951.00" y1="474.50" x2="1017.00" y2="474.50" stroke="#000" stroke-width="1" shape-rendering="crispEdges"/>
<path d="M0.4,0 L-13.4,-2.5 L-13.4,2.5 Z" fill="#000" stroke="none" transform="translate(929.48,488.67) rotate(146.14)"/>
<path d="M0.4,0 L-13.4,-2.5 L-13.4,2.5 Z" fill="#000" stroke="none" transform="translate(909.72,501.93) rotate(-33.86)"/>
<g transform="translate(953.80,470.70) rotate(0) scale(1.4875,1.4875)" fill="none" stroke="#000" stroke-width="0.773" stroke-linecap="butt" stroke-linejoin="round"><path d="M4.4,0 L0,5.3 L6,5.3 M4.4,0 L4.4,8" transform="translate(0.000,-8)"/><path d="M0,4.2 L6,4.2" transform="translate(8.500,-8)"/><path d="M3,1.8 Q6,1.8 6,5 Q6,8 3,8 Q0,8 0,5 Q0,1.8 3,1.8 Z M0.4,8.7 L5.7,0.7" transform="translate(17.000,-8)"/><path d="M0,1.3 Q0.3,0 1.8,0 L4.4,0 Q6,0 6,1.5 L6,2.3 Q6,3.8 4.4,3.8 L2.6,3.8 M4.4,3.8 Q6,3.8 6,5.3 L6,6.5 Q6,8 4.4,8 L1.8,8 Q0.3,8 0,6.7" transform="translate(25.500,-8)"/><path d="M0.15,6.9 L0.15,8.9" transform="translate(33.900,-8)" stroke-width="0.966"/><path d="M0,1.6 Q0,0 1.6,0 L4.4,0 Q6,0 6,1.6 L6,2.4 Q6,3.4 5,3.9 L0.9,5.7 Q0,6.1 0,7 L0,8 L6,8" transform="translate(36.400,-8)"/></g>
<line x1="951.80" y1="531.50" x2="919.60" y2="495.30" stroke="#000" stroke-width="1.15"/>
<line x1="952.00" y1="531.50" x2="1002.00" y2="531.50" stroke="#000" stroke-width="1" shape-rendering="crispEdges"/>
<path d="M0.4,0 L-13.4,-2.5 L-13.4,2.5 Z" fill="#000" stroke="none" transform="translate(926.25,502.77) rotate(228.35)"/>
<g transform="translate(955.60,528.20) rotate(0) scale(1.4875,1.4875)" fill="none" stroke="#000" stroke-width="0.773" stroke-linecap="butt" stroke-linejoin="round"><path d="M4.4,0 L0,5.3 L6,5.3 M4.4,0 L4.4,8" transform="translate(0.000,-8)"/><path d="M0,4.2 L6,4.2" transform="translate(8.450,-8)"/><path d="M0,8 L0,0 L3,5 L6,0 L6,8" transform="translate(16.900,-8)"/><path d="M0,1.3 Q0.3,0 1.8,0 L4.4,0 Q6,0 6,1.5 L6,2.3 Q6,3.8 4.4,3.8 L2.6,3.8 M4.4,3.8 Q6,3.8 6,5.3 L6,6.5 Q6,8 4.4,8 L1.8,8 Q0.3,8 0,6.7" transform="translate(25.350,-8)"/></g>
<line x1="1174.50" y1="536.50" x2="1143.90" y2="513.00" stroke="#000" stroke-width="1.15"/>
<line x1="1174.00" y1="536.50" x2="1249.00" y2="536.50" stroke="#000" stroke-width="1" shape-rendering="crispEdges"/>
<path d="M0.4,0 L-13.4,-2.5 L-13.4,2.5 Z" fill="#000" stroke="none" transform="translate(1143.90,513.00) rotate(-142.48)"/>
<g transform="translate(1177.60,532.90) rotate(0) scale(1.4500,1.5375)" fill="none" stroke="#000" stroke-width="0.770" stroke-linecap="butt" stroke-linejoin="round"><path d="M4.4,0 L0,5.3 L6,5.3 M4.4,0 L4.4,8" transform="translate(0.000,-8)"/><path d="M0,4.2 L6,4.2" transform="translate(8.750,-8)"/><path d="M0,8 L0,0 L4.4,0 Q6,0 6,1.5 L6,2.5 Q6,4 4.4,4 L0,4 M2.3,4 L6,8" transform="translate(17.500,-8)"/><path d="M0.2,1.7 L1.7,0 L1.7,8 M0,8 L3.4,8" transform="translate(26.250,-8)"/><path d="M0,1.6 Q0,0 1.6,0 L4.4,0 Q6,0 6,1.6 L6,2.4 Q6,3.4 5,3.9 L0.9,5.7 Q0,6.1 0,7 L0,8 L6,8" transform="translate(32.200,-8)"/><path d="M0.15,6.9 L0.15,8.9" transform="translate(40.850,-8)" stroke-width="0.991"/><path d="M5.9,0 L0.4,0 L0.4,3.4 L4.4,3.4 Q6,3.4 6,5 L6,6.4 Q6,8 4.4,8 L1.8,8 Q0.3,8 0,6.8" transform="translate(43.600,-8)"/></g>
</svg>
</body></html>
